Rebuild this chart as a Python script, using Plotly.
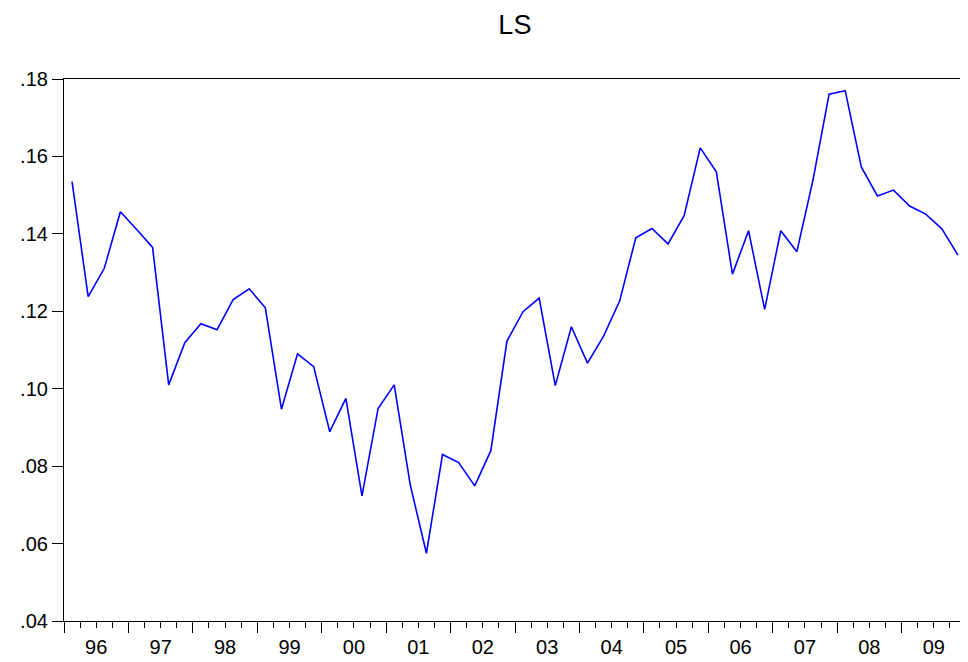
import plotly.graph_objects as go

# Quarterly series LS, 1996Q1 - 2009Q4
start_year = 1996
ls_values = [
    0.1535, 0.1238, 0.1311, 0.1457, 0.1412, 0.1365, 0.1010, 0.1119,
    0.1168, 0.1152, 0.1230, 0.1258, 0.1209, 0.0947, 0.1090, 0.1057,
    0.0889, 0.0975, 0.0723, 0.0949, 0.1010, 0.0751, 0.0575, 0.0830,
    0.0809, 0.0749, 0.0840, 0.1123, 0.1199, 0.1234, 0.1008, 0.1160,
    0.1066, 0.1136, 0.1227, 0.1390, 0.1414, 0.1374, 0.1447, 0.1622,
    0.1560, 0.1296, 0.1408, 0.1205, 0.1408, 0.1354, 0.1539, 0.1761,
    0.1770, 0.1573, 0.1498, 0.1513, 0.1472, 0.1451, 0.1413, 0.1345,
]
year_labels = ["96", "97", "98", "99", "00", "01", "02", "03", "04", "05", "06", "07", "08", "09"]
y_ticks = [0.04, 0.06, 0.08, 0.10, 0.12, 0.14, 0.16, 0.18]
y_ticktext = [".04", ".06", ".08", ".10", ".12", ".14", ".16", ".18"]

n_years = len(year_labels)
x_vals = [start_year + (i + 0.5) / 4 for i in range(len(ls_values))]
year_edges = [start_year + k for k in range(n_years + 1)]
year_mids = [start_year + k + 0.5 for k in range(n_years)]
x_range = [start_year, start_year + n_years]

fig = go.Figure()
fig.add_trace(go.Scatter(
    x=x_vals, y=ls_values, mode="lines",
    line=dict(color="#0000FF", width=1.6),
    showlegend=False, hoverinfo="x+y",
))
# invisible trace to carry the label axis
fig.add_trace(go.Scatter(
    x=[x_range[0]], y=[y_ticks[0]], xaxis="x2", mode="markers",
    marker=dict(opacity=0), showlegend=False, hoverinfo="skip",
))

font_family = "Liberation Sans, Arial, Helvetica, sans-serif"

fig.update_layout(
    width=960, height=654,
    paper_bgcolor="white", plot_bgcolor="white",
    margin=dict(l=56, r=2, t=71, b=41),
    title=dict(text="LS", x=0.528, xanchor="center", y=0.975, yanchor="middle",
               font=dict(family=font_family, size=27, color="black")),
    font=dict(family=font_family, color="black"),
    xaxis=dict(
        range=x_range, tickmode="array", tickvals=year_edges,
        ticks="outside", ticklen=11, tickwidth=1, tickcolor="black",
        showticklabels=False, showgrid=False, zeroline=False,
        showline=True, linecolor="black", linewidth=1.2, mirror=True,
        minor=dict(dtick=0.25, tick0=start_year, ticks="outside", ticklen=6,
                   tickwidth=1, tickcolor="black", showgrid=False),
    ),
    xaxis2=dict(
        range=x_range, overlaying="x", side="bottom", anchor="y",
        tickmode="array", tickvals=year_mids, ticktext=year_labels,
        ticks="outside", ticklen=8, tickcolor="rgba(0,0,0,0)",
        showgrid=False, zeroline=False, showline=False,
        tickfont=dict(family=font_family, size=20, color="black"),
    ),
    yaxis=dict(
        range=[y_ticks[0], y_ticks[-1]], tickmode="array", tickvals=y_ticks,
        ticktext=y_ticktext, ticks="outside", ticklen=11, tickwidth=1,
        tickcolor="black", showgrid=False, zeroline=False,
        showline=True, linecolor="black", linewidth=1.2, mirror=True,
        tickfont=dict(family=font_family, size=20, color="black"),
    ),
)

fig.write_html("out.html")
